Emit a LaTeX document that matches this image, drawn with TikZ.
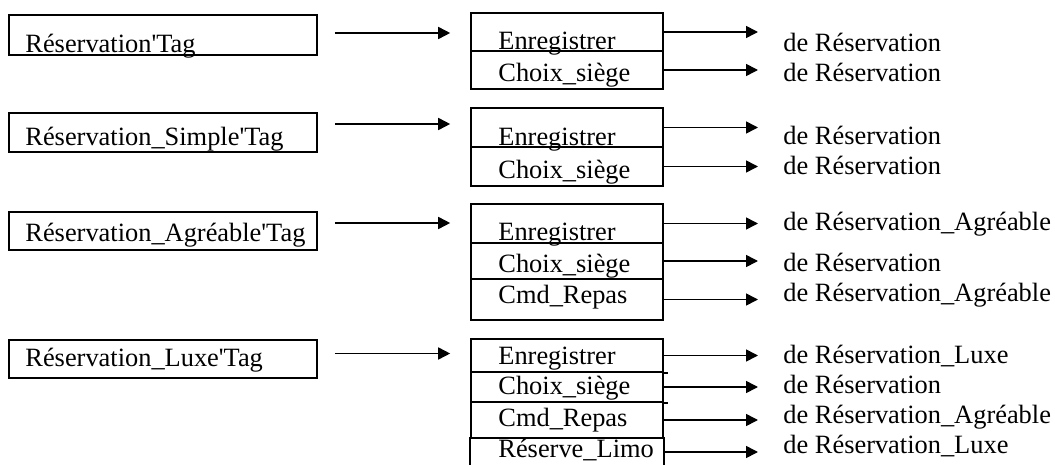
\documentclass[tikz,border=0pt]{standalone}
\usepackage{fontspec}
\setmainfont{Liberation Serif}
\usetikzlibrary{arrows.meta}

\tikzset{
  every node/.style={font=\fontsize{13.2pt}{16pt}\selectfont},
  tagbox/.style={draw, line width=0.8pt, minimum width=154pt, inner sep=0pt},
  rowbox/.style={draw, line width=0.8pt, minimum width=96pt, inner sep=0pt},
  txt/.style={anchor=base west, inner sep=0pt},
  arr/.style={line width=0.8pt, -{Triangle[length=6pt, width=6pt]}}
}

\begin{document}
\begin{tikzpicture}[x=0.5pt, y=-0.5pt]
    \useasboundingbox (0,0) rectangle (1055,465);

    % tag boxes
    \node[tagbox, minimum height=20pt] (lb1) at (163,35) {};
    \node[tagbox, minimum height=19.5pt] (lb2) at (163,132.5) {};
    \node[tagbox, minimum height=19pt] (lb3) at (163,231) {};
    \node[tagbox, minimum height=19pt] (lb4) at (163,359) {};
    \node[txt] (lt1) at (25,53) {Réservation\textquotesingle Tag};
    \node[txt] (lt2) at (25,146) {Réservation\_Simple\textquotesingle Tag};
    \node[txt] (lt3) at (25,241) {Réservation\_Agréable\textquotesingle Tag};
    \node[txt] (lt4) at (25,366) {Réservation\_Luxe\textquotesingle Tag};

    % operation tables
    \node[rowbox, minimum height=19pt] (r11) at (567,32) {};
    \node[rowbox, minimum height=19pt] (r12) at (567,70) {};
    \node[rowbox, minimum height=19.5pt] (r21) at (567,127.5) {};
    \node[rowbox, minimum height=19.5pt] (r22) at (567,166.5) {};
    \node[rowbox, minimum height=19.5pt] (r31) at (567,223.5) {};
    \node[rowbox, minimum height=18pt] (r32) at (567,261) {};
    \node[rowbox, minimum height=20.5pt] (r33) at (567,299.5) {};
    \node[rowbox, minimum height=16.5pt] (r41) at (567,355.5) {};
    \node[rowbox, minimum height=15pt] (r42) at (567,387) {};
    \node[rowbox, minimum height=18pt] (r43) at (567,420) {};
    \node[rowbox, draw=none, minimum height=14pt] (r44) at (567,452) {};
    \draw[line width=0.8pt] (r44.north west) -- (r44.south west)
        (r44.north east) -- (r44.south east);
    \draw[line width=0.8pt] (r41.south east) -- ++(4,0);
    \draw[line width=0.8pt] (r42.south east) -- ++(4,0);

    \node[txt] (o11) at (498,50) {Enregistrer};
    \node[txt] (o12) at (498,82) {Choix\_siège};
    \node[txt] (o21) at (498,146) {Enregistrer};
    \node[txt] (o22) at (498,178) {Choix\_siège};
    \node[txt] (o31) at (498,240) {Enregistrer};
    \node[txt] (o32) at (498,272) {Choix\_siège};
    \node[txt] (o33) at (498,303) {Cmd\_Repas};
    \node[txt] (o41) at (498,364) {Enregistrer};
    \node[txt] (o42) at (498,394) {Choix\_siège};
    \node[txt] (o43) at (498,426) {Cmd\_Repas};
    \node[txt] (o44) at (498,457) {Réserve\_Limo};

    % origins
    \node[txt] (d11) at (783,52) {de Réservation};
    \node[txt] (d12) at (783,82) {de Réservation};
    \node[txt] (d21) at (783,145) {de Réservation};
    \node[txt] (d22) at (783,175) {de Réservation};
    \node[txt] (d31) at (783,230) {de Réservation\_Agréable};
    \node[txt] (d32) at (783,271) {de Réservation};
    \node[txt] (d33) at (783,301) {de Réservation\_Agréable};
    \node[txt] (d41) at (783,363) {de Réservation\_Luxe};
    \node[txt] (d42) at (783,393) {de Réservation};
    \node[txt] (d43) at (783,423) {de Réservation\_Agréable};
    \node[txt] (d44) at (783,453) {de Réservation\_Luxe};

    % arrows
    \draw[arr, shorten <=8.5pt, shorten >=10pt] ([yshift=1pt]lb1.east) -- ([yshift=1pt]lb1.east -| r11.west);
    \draw[arr, shorten <=8.5pt, shorten >=10pt] ([yshift=4.25pt]lb2.east) -- ([yshift=4.25pt]lb2.east -| r21.west);
    \draw[arr, shorten <=8.5pt, shorten >=10pt] ([yshift=4pt]lb3.east) -- ([yshift=4pt]lb3.east -| r31.west);
    \draw[arr, shorten <=8.5pt, shorten >=10pt] ([yshift=2.75pt]lb4.east) -- ([yshift=2.75pt]lb4.east -| r41.west);

    \draw[arr, shorten >=12.5pt] (r11.east) -- (r11.east -| d11.west);
    \draw[arr, shorten >=12.5pt] (r12.east) -- (r12.east -| d12.west);
    \draw[arr, shorten >=12.5pt] (r21.east) -- (r21.east -| d21.west);
    \draw[arr, shorten >=12.5pt] (r22.east) -- (r22.east -| d22.west);
    \draw[arr, shorten >=12.5pt] (r31.east) -- (r31.east -| d31.west);
    \draw[arr, shorten >=12.5pt] (r32.east) -- (r32.east -| d32.west);
    \draw[arr, shorten >=12.5pt] (r33.east) -- (r33.east -| d33.west);
    \draw[arr, shorten >=12.5pt] (r41.east) -- (r41.east -| d41.west);
    \draw[arr, shorten >=12.5pt] (r42.east) -- (r42.east -| d42.west);
    \draw[arr, shorten >=12.5pt] (r43.east) -- (r43.east -| d43.west);
    \draw[arr, shorten >=12.5pt] (r44.east) -- (r44.east -| d44.west);
\end{tikzpicture}
\end{document}
